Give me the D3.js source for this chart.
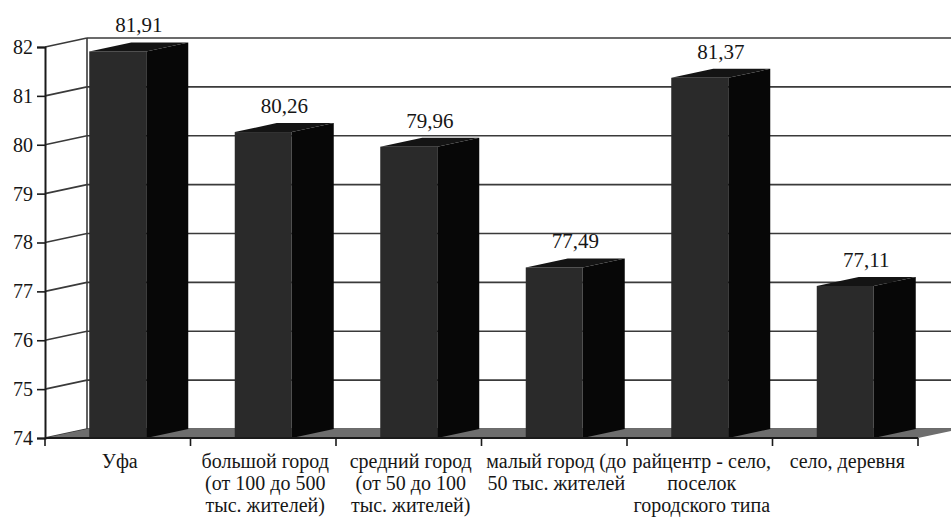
<!DOCTYPE html>
<html>
<head>
<meta charset="utf-8">
<script src="https://cdn.jsdelivr.net/npm/d3@7"></script>
<style>
  html, body { margin: 0; padding: 0; background: #ffffff; }
  svg { display: block; }
  #chart text, #chart tspan { font-family: "Liberation Serif", "Times New Roman", Times, serif !important; }
</style>
</head>
<body>
<svg id="chart" width="951" height="517" font-family="Liberation Serif"></svg>
<script>
// Settlement types
const categories = ["Уфа", "большой город", "средний город", "малый город", "райцентр", "село, деревня"];
// Category captions, line by line
const categoryLines = [
  ["Уфа"],
  ["большой город", "(от 100 до 500", "тыс. жителей)"],
  ["средний город", "(от 50 до 100", "тыс. жителей)"],
  ["малый город (до", "50 тыс. жителей"],
  ["райцентр - село,", "поселок", "городского типа"],
  ["село, деревня"]
];
// Bar values
const values = [81.91, 80.26, 79.96, 77.49, 81.37, 77.11];
// Value axis ticks
const yTicks = [74, 75, 76, 77, 78, 79, 80, 81, 82];

const FONT = "Liberation Serif";
const TEXT_COLOR = "#161616";

const svg = d3.select("#chart");

// Front plane geometry and the depth offset to the back wall
const plotLeft = 45, plotRight = 918, plotBottom = 438, plotTop = 47;
const dx = 42, dy = -9;
const barW = 57;

const x = d3.scaleBand().domain(categories).range([plotLeft, plotRight]).paddingInner(0).paddingOuter(0);
const y = d3.scaleLinear().domain([74, 82]).range([plotBottom, plotTop]);
const fmt = d3.formatLocale({decimal: ",", thousands: " ", grouping: [3], currency: ["", ""]}).format(".2f");

const yMin = y.domain()[0], yMax = y.domain()[1];
const gridColor = "#3a3a3a";
const wallRight = plotRight + dx + 20;

// Back wall
svg.append("polygon")
  .attr("points", [[plotLeft + dx, y(yMax) + dy], [wallRight, y(yMax) + dy], [wallRight, y(yMin) + dy], [plotLeft + dx, y(yMin) + dy]].join(" "))
  .attr("fill", "#ffffff");

// Gridlines on the back wall
svg.append("g").selectAll("line").data(yTicks).join("line")
  .attr("x1", plotLeft + dx).attr("x2", wallRight)
  .attr("y1", d => y(d) + dy).attr("y2", d => y(d) + dy)
  .attr("stroke", gridColor).attr("stroke-width", 1.6);

// Gridlines on the side wall
svg.append("g").selectAll("line").data(yTicks).join("line")
  .attr("x1", plotLeft).attr("x2", plotLeft + dx)
  .attr("y1", d => y(d)).attr("y2", d => y(d) + dy)
  .attr("stroke", gridColor).attr("stroke-width", 1.6);

// Corner between side wall and back wall
svg.append("line")
  .attr("x1", plotLeft + dx).attr("x2", plotLeft + dx)
  .attr("y1", y(yMax) + dy).attr("y2", y(yMin) + dy)
  .attr("stroke", gridColor).attr("stroke-width", 1.6);

// Floor
svg.append("polygon")
  .attr("points", [[plotLeft, y(yMin)], [plotRight, y(yMin)], [plotRight + dx, y(yMin) + dy], [plotLeft + dx, y(yMin) + dy]].join(" "))
  .attr("fill", "#6e6e6e");

// 3D bars: side face, top face, front face and the value above
const bars = svg.append("g").selectAll("g").data(categories.map((c, i) => ({c, v: values[i], i}))).join("g");
bars.each(function(d) {
  const g = d3.select(this);
  // the bar is centred on its band at the back wall
  const bx = x(d.c) + (x.bandwidth() - barW) / 2;
  const yt = y(d.v), yb = y(yMin);
  g.append("polygon")
    .attr("points", [[bx + barW, yt], [bx + barW + dx, yt + dy], [bx + barW + dx, yb + dy], [bx + barW, yb]].join(" "))
    .attr("fill", "#070707");
  g.append("polygon")
    .attr("points", [[bx, yt], [bx + dx, yt + dy], [bx + barW + dx, yt + dy], [bx + barW, yt]].join(" "))
    .attr("fill", "#141414");
  g.append("rect")
    .attr("x", bx).attr("y", yt).attr("width", barW).attr("height", yb - yt)
    .attr("fill", "#2a2a2a");
  g.append("text")
    .attr("x", bx + barW / 2 + dx / 2)
    .attr("y", yt - 19)
    .attr("text-anchor", "middle")
    .attr("font-family", FONT)
    .style("font-size", "21px").style("fill", TEXT_COLOR)
    .text(fmt(d.v));
});

// Value axis on the front edge
const yAxis = svg.append("g")
  .attr("transform", `translate(${plotLeft},0)`)
  .call(d3.axisLeft(y).tickValues(yTicks).tickFormat(d3.format("d")).tickSize(8).tickPadding(4));
yAxis.attr("font-family", FONT).attr("font-size", 20);
yAxis.select(".domain").attr("stroke", "#1a1a1a").attr("stroke-width", 2);
yAxis.selectAll(".tick line").attr("stroke", "#1a1a1a").attr("stroke-width", 1.6);
yAxis.selectAll(".tick text")
  .attr("font-family", FONT)
  .style("font-size", "20px").style("fill", TEXT_COLOR);

// Category axis on the front edge of the floor
svg.append("line")
  .attr("x1", plotLeft).attr("x2", plotRight)
  .attr("y1", plotBottom).attr("y2", plotBottom)
  .attr("stroke", "#1a1a1a").attr("stroke-width", 2.2);
const boundaries = categories.map(c => x(c)).concat([plotRight]);
svg.append("g").selectAll("line").data(boundaries).join("line")
  .attr("x1", d => d).attr("x2", d => d)
  .attr("y1", plotBottom).attr("y2", plotBottom + 8)
  .attr("stroke", "#1a1a1a").attr("stroke-width", 1.6);

const labels = svg.append("g").selectAll("text").data(categories).join("text")
  .attr("text-anchor", "middle")
  .attr("font-family", FONT)
  .style("font-size", "20px").style("fill", TEXT_COLOR)
  .attr("transform", (c) => `translate(${x(c) + x.bandwidth() / 2 + 2},${plotBottom + 30})`);
labels.selectAll("tspan").data((c, i) => categoryLines[i]).join("tspan")
  .attr("x", 0)
  .attr("y", (d, j) => j * 22)
  .text(d => d);
</script>
</body>
</html>
